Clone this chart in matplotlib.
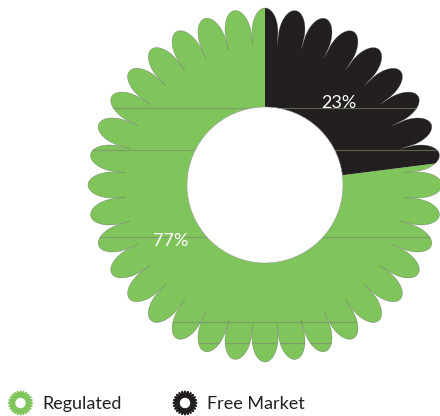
import numpy as np
import matplotlib.pyplot as plt
from matplotlib.patches import Polygon, Circle
from matplotlib.path import Path

labels = ['Regulated', 'Free Market']
shares = [77, 23]
colors = ['#80c55b', '#231f20']
# where the percentage text sits: (angle in degrees, distance from centre)
label_spots = [(210.5, 110), (48.0, 111)]
# faint horizontal seams running across the ring
seam_y = [308, 266, 179, 94, 73]

CX, CY = 265, 231
R_TIP, R_CUSP, R_SIDE, R_HOLE = 177, 140, 153, 78
N_PETALS = 36


def flower(cx, cy, n, r_tip, r_cusp, r_side, gap=0.4, steps=30):
	# scalloped ring: n petals with near-parallel sides and an elliptic cap,
	# neighbouring petals meet in a narrow slit at r_cusp
	half = np.pi / n
	a_t = r_side * np.sin(half) - gap
	a_r = r_tip - r_side
	t = np.linspace(-np.pi / 2, np.pi / 2, steps)
	cap = np.column_stack([r_side + a_r * np.cos(t), a_t * np.sin(t)])
	P1 = np.array([r_cusp * np.cos(half), -r_cusp * np.sin(half)])
	local = np.vstack([P1, cap])
	pts = []
	for k in range(n):
		th = np.pi / 2 + 2 * np.pi * k / n
		rot = np.array([[np.cos(th), -np.sin(th)], [np.sin(th), np.cos(th)]])
		pts.append(local @ rot.T)
	return np.vstack(pts) + [cx, cy]


fig = plt.figure(figsize=(4.4, 4.16), dpi=100)
ax = fig.add_axes([0, 0, 1, 1])

outline = flower(CX, CY, N_PETALS, R_TIP, R_CUSP, R_SIDE)
ring_path = Path(np.vstack([outline, outline[:1]]), closed=True)

wedges, _ = ax.pie(shares, colors=colors, startangle=90, counterclock=True,
	radius=R_TIP + 4, center=(CX, CY), wedgeprops=dict(linewidth=0))
ax.set_xlim(0, 440)
ax.set_ylim(0, 416)
ax.set_aspect('equal')
ax.axis('off')

# pie wedges come with clipping switched off
for w in wedges:
	w.set_clip_path(ring_path, ax.transData)
	w.set_clip_on(True)

for y in seam_y:
	ln, = ax.plot([0, 440], [y, y], color='#7a8a70', lw=0.8, alpha=0.65, zorder=3)
	ln.set_clip_path(ring_path, ax.transData)

ax.add_patch(Polygon(outline, closed=True, fill=False, ec='#4a4a4a', lw=0.4, alpha=0.5, zorder=4))
ax.add_patch(Circle((CX, CY), R_HOLE, fc='white', ec='#9a9a9a', lw=0.4, zorder=5))

for v, (ang, r) in zip(shares, label_spots):
	a = np.radians(ang)
	ax.text(CX + r * np.cos(a), CY + r * np.sin(a), f'{v}%', color='white',
		fontsize=13, family='Lato', ha='center', va='center', zorder=6)

# legend: little gear rings next to the names
legend_x = [20.5, 185]
for name, col, lx in zip(labels, colors, legend_x):
	ax.add_patch(Polygon(flower(lx, 13, 24, 12.5, 10.3, 11.2, gap=0.3, steps=8), closed=True,
		fc=col, ec='none', zorder=5))
	ax.add_patch(Circle((lx, 13), 5.2, fc='white', ec='none', zorder=6))
	ax.text(lx + 21.5, 12, name, color='#231f20', fontsize=13, family='Lato',
		ha='left', va='center')

fig.savefig('out.png', dpi=100)
